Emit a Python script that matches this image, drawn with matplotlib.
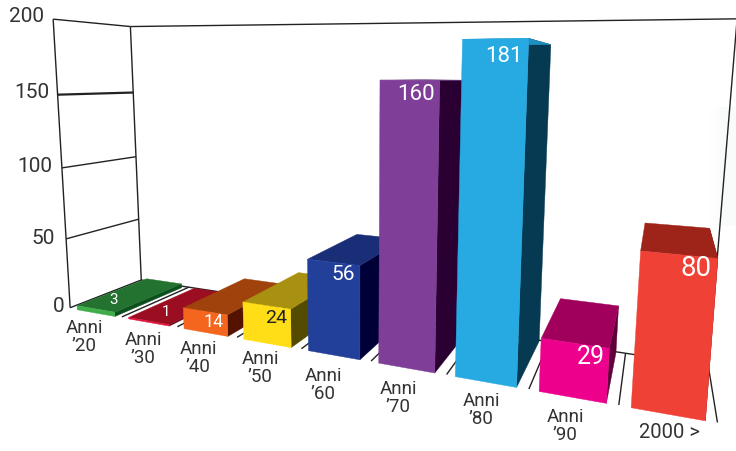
import numpy as np
import matplotlib
matplotlib.use("Agg")
import matplotlib.pyplot as plt
from matplotlib.colors import LinearSegmentedColormap
from mpl_toolkits.mplot3d.art3d import Poly3DCollection, Line3DCollection

# ---- data -----------------------------------------------------------
categories = ["Anni\n\u201920", "Anni\n\u201930", "Anni\n\u201940", "Anni\n\u201950", "Anni\n\u201960",
              "Anni\n\u201970", "Anni\n\u201980", "Anni\n\u201990", "2000 >"]
values = [3, 1, 14, 24, 56, 160, 181, 29, 80]
y_ticks = [0, 50, 100, 150, 200]

# ---- style ----------------------------------------------------------
front_colors = ["#3fae49", "#e0123c", "#f4651e", "#ffde17", "#22409a", "#7f3f98", "#27aae1", "#ec008c", "#ef4136"]
top_colors = ["#247230", "#9b0d20", "#a0420b", "#a89010", "#1a2e78", "#5a2a70", "#1d8fc0", "#a0005c", "#9e2419"]
side_colors = ["#0e4f1e", "#5a0010", "#541300", "#544a00", "#000038", "#2a0033", "#063a52", "#60003a", "#700f0a"]
label_colors = ["white", "white", "white", "#222222", "white", "white", "white", "white", "white"]
value_pos = [(114, 300), (166, 312), (214, 322), (276, 318), (343, 275), (416, 95), (504, 56), (591, 357), (696, 269)]
value_size = [11, 11, 13, 14, 15, 16, 16, 18, 20]
cat_pos = [(84, 337), (143, 349), (198, 358), (260, 368), (323, 385), (398, 398), (481, 410), (565, 426), (669, 432)]
cat_size = [13.5] * 8 + [14.5]
tick_right = [64, 55, 52, 49, 44]
tick_y = [306, 238, 166, 92, 17]

W, H = 736, 451
n = len(categories)
zmax = y_ticks[-1]
gap, depth = 0.13, 0.95
fig = plt.figure(figsize=(W / 100, H / 100), dpi=100)

# very faint panel behind the right edge of the wall
bg = fig.add_axes([700 / W, 1 - 226 / H, 36 / W, 119 / H])
bg.imshow([[0, 1]], aspect="auto", interpolation="bilinear",
          cmap=LinearSegmentedColormap.from_list("f", ["#ffffff", "#f8fbfa"]))
bg.set_axis_off()


def camera_axes(world, pix):
    """A 3D axes whose projection is fitted to world -> pixel reference points."""
    ax = fig.add_axes([0, 0, 1, 1], projection="3d", computed_zorder=False)
    ax.set_axis_off()
    ax.patch.set_alpha(0)
    ax.apply_aspect = lambda position=None: None
    world = np.array(world, float)
    pix = np.array(pix, float)
    Wn = world / np.array([n, 1, zmax])
    Pn = pix / W
    rows = []
    for (a, b, c), (u, v) in zip(Wn, Pn):
        rows.append([a, b, c, 1, 0, 0, 0, 0, -u * a, -u * b, -u * c, -u])
        rows.append([0, 0, 0, 0, a, b, c, 1, -v * a, -v * b, -v * c, -v])
    P = np.linalg.svd(np.array(rows))[2][-1].reshape(3, 4)
    P = np.diag([W, W, 1.0]) @ P @ np.diag([1 / n, 1, 1 / zmax, 1])
    inv = ax.transData.inverted()
    o = inv.transform((0, H))
    ex = inv.transform((1, H)) - o
    ey = inv.transform((0, H - 1)) - o
    T = np.array([[ex[0], ey[0], o[0]], [ex[1], ey[1], o[1]], [0, 0, 1]])
    P3 = T @ P
    M = np.vstack([P3[0], P3[1], [0, 0, 0, 1.0], P3[2]])
    ax.get_proj = lambda: M
    return ax


# ---- frame ----------------------------------------------------------
ax_frame = camera_axes(
    [(0, 0, 0), (0, 0, zmax), (0, 1, zmax), (0, 1, 0), (0, 0, 50), (0, 0, 100), (0, 0, 150),
     (0, 1, 50), (0, 1, 100), (0, 1, 150),
     (n, 1, 0), (n, 1, zmax), (n, 0, 0), (1, 0, 0), (3, 0, 0), (5, 0, 0), (7, 0, 0), (8, 0, 0), (8, 1, 0)],
    [(70, 308), (53, 18), (130, 25), (142, 280), (67, 239), (63, 168), (58, 95),
     (138, 220), (136, 157), (133, 93),
     (709, 365), (737, 21), (719, 423), (122, 317), (236, 338), (369, 361), (528, 388), (619, 405), (625.6, 352)])

segs = []
widths = []
def seg(a, b, lw=1.0):
    segs.append([a, b])
    widths.append(lw)

for t in y_ticks:
    seg((0, 0, t), (0, 1, t), 1.6 if t == 150 else 1.0)
seg((0, 0, 0), (0, 0, zmax))
seg((0, 1, 0), (0, 1, zmax))
seg((0, 1, zmax), (n, 1, zmax))
seg((n, 1, 0), (n, 1, zmax))
seg((0, 1, 0), (n, 1, 0))
seg((n, 1, 0), (n, 0, 0))
for i in range(1, n):
    seg((i, 0, 0), (i, 1, 0))
frame = Line3DCollection(segs, colors="#222222", linewidths=widths, zorder=1)
frame.set_clip_on(False)
ax_frame.add_collection3d(frame)

# ---- bars -----------------------------------------------------------
ax = camera_axes(
    [(0, 0, 0), (n, 1, 0), (n, 0, 0), (0, 1, 0), (1, 0, 0), (3, 0, 0), (5, 0, 0), (7, 0, 0), (8, 0, 0), (8, 1, 0),
     (6 + gap, 0, 181), (7 - gap, 0, 181), (6 + gap, 0, 0), (7 - gap, 0, 0),
     (5 + gap, 0, 160), (6 - gap, 0, 160), (5 + gap, 0, 0), (6 - gap, 0, 0),
     (7 + gap, 0, 29), (8 - gap, 0, 29),
     (8 + gap, 0, 80), (9 - gap, 0, 80), (8 + gap, depth, 80), (9 - gap, depth, 80),
     (7 - gap, depth, 181),
     (4 + gap, 0, 56), (5 - gap, 0, 56), (3 + gap, 0, 24), (4 - gap, 0, 24), (2 + gap, 0, 14), (3 - gap, 0, 14),
     (2 + gap, depth, 14), (3 + gap, depth, 24)],
    [(70, 308), (709, 365), (719, 423), (142, 280), (122, 317), (236, 338), (369, 361), (528, 388), (619, 405), (625.6, 352),
     (462.7, 39), (528, 38), (455, 377), (515, 387),
     (380, 80), (438, 80), (378, 362), (433, 372),
     (541.7, 338), (608, 348),
     (642, 251), (717, 257), (645, 222), (709, 227),
     (550, 44),
     (307, 260), (357, 265), (243, 302), (289, 308), (183, 308), (227, 313),
     (245, 278), (300, 272)])

for i, v in enumerate(values):
    x0, x1 = i + gap, i + 1 - gap
    side = [(x1, 0, 0), (x1, depth, 0), (x1, depth, v), (x1, 0, v)]
    top = [(x0, 0, v), (x1, 0, v), (x1, depth, v), (x0, depth, v)]
    front = [(x0, 0, 0), (x1, 0, 0), (x1, 0, v), (x0, 0, v)]
    for k, (face, col) in enumerate([(side, side_colors[i]), (top, top_colors[i]), (front, front_colors[i])]):
        ax.add_collection3d(Poly3DCollection([face], facecolors=col, edgecolors=col, linewidths=0.3,
                                             zorder=10 + 3 * i + k))

# ---- text -----------------------------------------------------------
def px(x, y):
    return x / W, 1 - y / H

for t, xr, yc in zip(y_ticks, tick_right, tick_y):
    fig.text(*px(xr, yc), str(t), ha="right", va="center", family="Roboto", fontsize=15, color="#333333")
for c, (x, y), s in zip(categories, cat_pos, cat_size):
    fig.text(*px(x, y), c, ha="center", va="center", family="Roboto", fontsize=s, color="#333333",
             linespacing=0.95, multialignment="center")
for i, v in enumerate(values):
    x, y = value_pos[i]
    fig.text(*px(x, y), str(v), ha="center", va="center", color=label_colors[i], fontsize=value_size[i],
             family="Roboto")

fig.savefig("out.png", dpi=100)
